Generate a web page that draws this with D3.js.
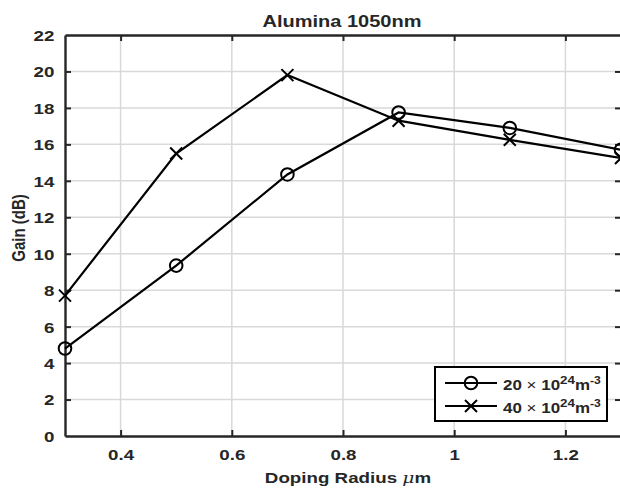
<!DOCTYPE html>
<html><head><meta charset="utf-8">
<script src="https://cdn.jsdelivr.net/npm/d3@7/dist/d3.min.js"></script>
<style>
body{margin:0;background:#fff;}
text{font-family:"Liberation Sans",Arial,Helvetica,sans-serif;font-weight:bold;fill:#262626;}
</style>
</head><body>
<svg id="chart" width="620" height="489"></svg>
<script>
// ---- data ----
const radius = [0.3, 0.5, 0.7, 0.9, 1.1, 1.3];
const gain20 = [4.8, 9.35, 14.35, 17.75, 16.9, 15.7];
const gain40 = [7.7, 15.5, 19.8, 17.3, 16.25, 15.25];
const xTicks = [0.4, 0.6, 0.8, 1.0, 1.2];
const yTicks = [0, 2, 4, 6, 8, 10, 12, 14, 16, 18, 20, 22];
const seriesBase = ["20", "40"];
const seriesExp = ["24", "24"];
const titleText = "Alumina 1050nm";
const xLabelText = "Doping Radius ";
const yLabelText = "Gain (dB)";

// ---- layout ----
const SX = 1.25; // horizontal text stretch of the original raster
const svg = d3.select("#chart");
const x = d3.scaleLinear().domain([0.3, 1.3]).range([65, 621]);
const y = d3.scaleLinear().domain([0, 22]).range([436, 35]);
const axisColor = "#262626";

// grid
const grid = svg.append("g");
grid.selectAll("line.v").data(xTicks).join("line")
  .attr("x1", d => x(d)).attr("x2", d => x(d))
  .attr("y1", y(22)).attr("y2", y(0))
  .attr("stroke", "#d9d9d9").attr("stroke-width", 1.5);
grid.selectAll("line.h").data(yTicks.filter(d => d > 0 && d < 22)).join("line")
  .attr("x1", x(0.3)).attr("x2", x(1.3))
  .attr("y1", d => y(d)).attr("y2", d => y(d))
  .attr("stroke", "#d9d9d9").attr("stroke-width", 1.5);

// axes (ticks inward on all four sides)
const fmt = d => String(d);
const gB = svg.append("g").attr("transform", `translate(0,${y(0)})`)
  .call(d3.axisBottom(x).tickValues(xTicks).tickSizeInner(-6).tickSizeOuter(0).tickPadding(12).tickFormat(fmt));
const gT = svg.append("g").attr("transform", `translate(0,${y(22)})`)
  .call(d3.axisTop(x).tickValues(xTicks).tickSizeInner(-6).tickSizeOuter(0).tickFormat(""));
const gL = svg.append("g").attr("transform", `translate(${x(0.3)},0)`)
  .call(d3.axisLeft(y).tickValues(yTicks).tickSizeInner(-6).tickSizeOuter(0).tickPadding(10).tickFormat(fmt));
const gR = svg.append("g").attr("transform", `translate(${x(1.3)},0)`)
  .call(d3.axisRight(y).tickValues(yTicks).tickSizeInner(-6).tickSizeOuter(0).tickFormat(""));
[gB, gT, gL, gR].forEach(g => {
  g.select(".domain").attr("stroke", axisColor).attr("stroke-width", 2.4);
  g.selectAll(".tick line").attr("stroke", axisColor).attr("stroke-width", 2);
  g.selectAll(".tick text").attr("font-size", 15).attr("fill", axisColor)
    .attr("font-family", null).attr("transform", `scale(${SX},1)`);
});
gB.selectAll(".tick text").attr("dy", "0.71em").attr("y", 13);
gL.selectAll(".tick text").attr("x", -8.5).attr("dy", "0.36em");
gL.selectAll(".tick line").filter(d => d === 0 || d === 22).remove();
gR.selectAll(".tick line").filter(d => d === 0 || d === 22).remove();

// lines
const line = d3.line().x(d => x(d[0])).y(d => y(d[1]));
const s20 = radius.map((r, i) => [r, gain20[i]]);
const s40 = radius.map((r, i) => [r, gain40[i]]);
svg.append("path").datum(s20).attr("d", line).attr("fill", "none").attr("stroke", "#000").attr("stroke-width", 2.2);
svg.append("path").datum(s40).attr("d", line).attr("fill", "none").attr("stroke", "#000").attr("stroke-width", 2.2);

// markers
function circleMarker(g, cx, cy) {
  g.append("circle").attr("cx", cx).attr("cy", cy).attr("r", 6.3)
    .attr("fill", "none").attr("stroke", "#000").attr("stroke-width", 2);
}
function crossMarker(g, cx, cy) {
  const s = 6;
  g.append("path").attr("d", `M${cx - s},${cy - s}L${cx + s},${cy + s}M${cx - s},${cy + s}L${cx + s},${cy - s}`)
    .attr("stroke", "#000").attr("stroke-width", 2).attr("fill", "none");
}
const mk = svg.append("g");
s20.forEach(d => circleMarker(mk, x(d[0]), y(d[1])));
s40.forEach(d => crossMarker(mk, x(d[0]), y(d[1])));

// title
svg.append("text").attr("transform", `translate(342,27) scale(${SX},1)`)
  .attr("text-anchor", "middle").attr("font-size", 16).attr("fill", "#000").text(titleText);

// x label
const xl = svg.append("text").attr("transform", `translate(348,483) scale(${SX},1)`)
  .attr("text-anchor", "middle").attr("font-size", 15);
xl.append("tspan").text(xLabelText);
xl.append("tspan").attr("font-style", "italic").attr("font-weight", "normal")
  .attr("font-family", "'DejaVu Serif',serif").text("\u03bc");
xl.append("tspan").text("m");

// y label
svg.append("text").attr("transform", `translate(25,228) scale(${SX},1) rotate(-90)`)
  .attr("text-anchor", "middle").attr("font-size", 15).text(yLabelText);

// legend
const lg = svg.append("g");
lg.append("rect").attr("x", 435).attr("y", 367).attr("width", 172).attr("height", 54)
  .attr("fill", "#fff").attr("stroke", "#000").attr("stroke-width", 2);
const rowsY = [383, 406];
seriesBase.forEach((b, i) => {
  const ry = rowsY[i];
  lg.append("line").attr("x1", 445).attr("x2", 497).attr("y1", ry).attr("y2", ry)
    .attr("stroke", "#000").attr("stroke-width", 2.2);
  if (i === 0) circleMarker(lg, 471, ry); else crossMarker(lg, 471, ry);
  const t = lg.append("text").attr("transform", `translate(503,${ry + 6.5}) scale(${SX * 0.97},1)`)
    .attr("font-size", 14).attr("fill", "#000");
  t.append("tspan").text(b);
  t.append("tspan").attr("font-weight", "normal").text("\u00a0\u00d7\u00a0");
  t.append("tspan").text("10");
  t.append("tspan").attr("font-size", 11).attr("dy", -6).text(seriesExp[i]);
  t.append("tspan").attr("dy", 6).text("m");
  t.append("tspan").attr("font-size", 10).attr("dy", -6).text("-3");
});
</script>
</body></html>
